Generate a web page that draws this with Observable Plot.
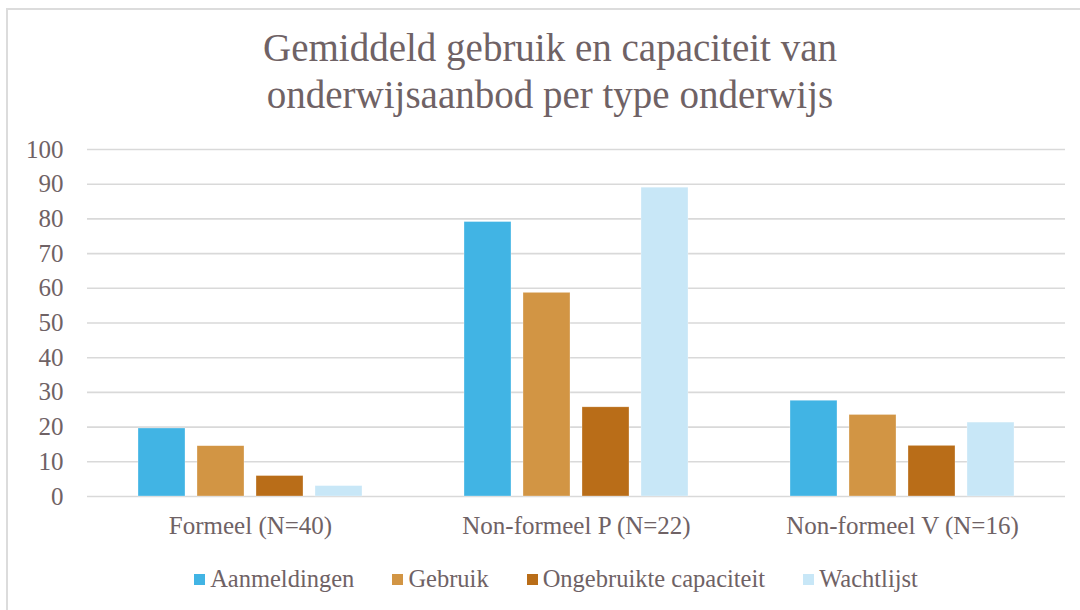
<!DOCTYPE html>
<html>
<head>
<meta charset="utf-8">
<script src="https://cdn.jsdelivr.net/npm/d3@7"></script>
<script src="https://cdn.jsdelivr.net/npm/@observablehq/plot@0.6"></script>
<style>
  html, body { margin: 0; padding: 0; background: #fff; }
  #wrap { position: relative; width: 1080px; height: 610px; overflow: hidden; font-family: "Liberation Serif", serif; color: #6f6265; }
  #frame { position: absolute; left: 6px; top: 8px; width: 1200px; height: 700px; border-top: 2px solid #dcdcdc; border-left: 2px solid #dcdcdc; }
  #title { position: absolute; left: 0; top: 24px; width: 1100px; text-align: center; font-size: 39px; line-height: 47px; }
  #chart { position: absolute; left: 0; top: 130px; }
  #chart svg g[aria-label="y-axis tick label"] { font-size: 24.5px; }
  #legend { position: absolute; left: 0; top: 565px; width: 1112px; text-align: center; font-size: 24.5px; }
  #legend span.item { margin: 0 19px; white-space: nowrap; }
  #legend span.sw { display: inline-block; width: 11px; height: 11px; margin-right: 5px; vertical-align: 2px; }
</style>
</head>
<body>
<div id="wrap">
  <div id="frame"></div>
  <div id="title">Gemiddeld gebruik en capaciteit van<br>onderwijsaanbod per type onderwijs</div>
  <div id="chart"></div>
  <div id="legend"></div>
</div>
<script>
const groups = ["Formeel (N=40)", "Non-formeel P (N=22)", "Non-formeel V (N=16)"];
const series = ["Aanmeldingen", "Gebruik", "Ongebruikte capaciteit", "Wachtlijst"];
const colors = ["#41b4e4", "#d29544", "#b96d18", "#c8e7f7"];
const aanmeldingen = [19.6, 79.1, 27.6];
const gebruik = [14.5, 58.7, 23.5];
const ongebruikt = [5.9, 25.7, 14.6];
const wachtlijst = [3.0, 89.0, 21.3];
const yTicks = [0, 10, 20, 30, 40, 50, 60, 70, 80, 90, 100];

const valuesBySeries = [aanmeldingen, gebruik, ongebruikt, wachtlijst];
const data = [];
groups.forEach((g, gi) => series.forEach((s, si) => data.push({group: g, series: s, value: valuesBySeries[si][gi]})));

const textColor = "#6f6265";
const chart = Plot.plot({
  width: 1080,
  height: 420,
  marginLeft: 86,
  marginRight: 15,
  marginTop: 19,
  marginBottom: 54,
  style: {fontFamily: "Liberation Serif, serif", fontSize: "23px", color: textColor, background: "transparent"},
  fx: {domain: groups, padding: 0, label: null},
  x: {domain: series, paddingInner: 0.21, paddingOuter: 0.86, axis: null},
  y: {domain: [0, 100], label: null},
  color: {domain: series, range: colors},
  marks: [
    Plot.gridY(yTicks, {stroke: "#d9d9d9", strokeOpacity: 1, strokeWidth: 1.6}),
    Plot.axisY(yTicks, {tickSize: 0, tickPadding: 24, fontSize: 25, fill: textColor, label: null}),
    Plot.axisFx({anchor: "bottom", tickSize: 0, tickPadding: 20, fontSize: 25, fill: textColor, label: null}),
    Plot.barY(data, {fx: "group", x: "series", y: "value", fill: "series", stroke: "#ffffff", strokeWidth: 0.6, strokeOpacity: 0.5})
  ]
});
document.getElementById("chart").appendChild(chart);

const legend = document.getElementById("legend");
series.forEach((s, i) => {
  const item = document.createElement("span");
  item.className = "item";
  const sw = document.createElement("span");
  sw.className = "sw";
  sw.style.background = colors[i];
  item.appendChild(sw);
  item.appendChild(document.createTextNode(s));
  legend.appendChild(item);
});
</script>
</body>
</html>
